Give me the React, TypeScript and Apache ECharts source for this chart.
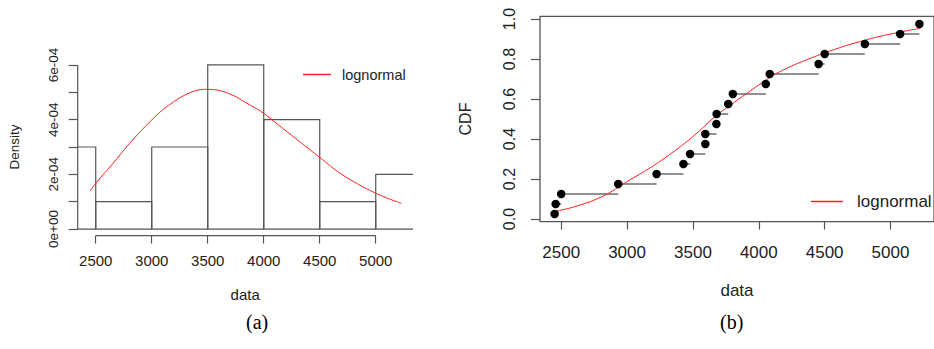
import React, { useEffect, useRef } from "react";
import * as echarts from "echarts";

// ---- histogram (panel a) ----
const histBreaks = [2000, 2500, 3000, 3500, 4000, 4500, 5000, 5500];
const histDensity = [3e-4, 1e-4, 3e-4, 6e-4, 4e-4, 1e-4, 2e-4];

// fitted lognormal density (panel a)
const densX = [2450, 2500, 2650, 2800, 3000, 3150, 3350, 3500, 3680, 3880, 4000, 4170, 4320, 4500, 4700, 5000, 5230];
const densY = [1.39e-4, 1.67e-4, 2.38e-4, 3.12e-4, 3.99e-4, 4.52e-4, 5.0e-4, 5.11e-4, 4.97e-4, 4.53e-4, 4.23e-4, 3.68e-4, 3.2e-4, 2.62e-4, 1.99e-4, 1.31e-4, 0.94e-4];

// fitted lognormal CDF (panel b)
const cdfX = [2450, 2620, 2820, 3000, 3190, 3370, 3500, 3660, 3750, 4000, 4160, 4490, 4810, 5090, 5225];
const cdfY = [0.037, 0.065, 0.115, 0.187, 0.262, 0.345, 0.412, 0.508, 0.553, 0.67, 0.737, 0.828, 0.895, 0.937, 0.953];

// empirical CDF points (panel b)
const ecdfX = [2450, 2458, 2500, 2933, 3224, 3428, 3478, 3594, 3594, 3678, 3680, 3768, 3803, 4053, 4083, 4454, 4500, 4805, 5073, 5219];
const ecdfY = [0.025, 0.075, 0.125, 0.175, 0.225, 0.275, 0.325, 0.375, 0.425, 0.475, 0.525, 0.575, 0.625, 0.675, 0.725, 0.775, 0.825, 0.875, 0.925, 0.975];

// axes
const xTicks = [2500, 3000, 3500, 4000, 4500, 5000];
const xTickLabels = ["2500", "3000", "3500", "4000", "4500", "5000"];
const densYTicks = [0, 1e-4, 2e-4, 3e-4, 4e-4, 5e-4, 6e-4];
const densYLabelValues = [0, 2e-4, 4e-4, 6e-4];
const densYLabels = ["0e+00", "2e-04", "4e-04", "6e-04"];
const cdfYTicks = [0, 0.2, 0.4, 0.6, 0.8, 1.0];
const cdfYLabels = ["0.0", "0.2", "0.4", "0.6", "0.8", "1.0"];

const X_MIN = 2339;
const X_MAX = 5330;
const DENS_Y_MIN = -0.24e-4;
const DENS_Y_MAX = 6.24e-4;
const CDF_Y_MIN = -0.013;
const CDF_Y_MAX = 1.013;

const lookup = (vals: number[], texts: string[]) => (v: number) => {
  const i = vals.findIndex((t) => Math.abs(t - v) <= Math.abs(t) * 1e-6 + 1e-12);
  return i >= 0 ? texts[i] : "";
};

const AX = "#555";
const TXT = "#222";
const RED = "#ff2020";
const FONT = "'Liberation Sans', Arial, sans-serif";

export default function App() {
  const ref = useRef<HTMLDivElement>(null);
  useEffect(() => {
    document.body.style.margin = "0";
    if (!ref.current) return;
    const chart = echarts.init(ref.current, null, { renderer: "svg" });

    const histData = histDensity.map((d, i) => [histBreaks[i], histBreaks[i + 1], d]);
    const stepData = ecdfX.slice(0, -1).map((x, i) => [x, ecdfX[i + 1], ecdfY[i]]);
    const densAxisLines = [
      [xTicks[0], DENS_Y_MIN, xTicks[xTicks.length - 1], DENS_Y_MIN],
      [X_MIN, densYTicks[0], X_MIN, densYTicks[densYTicks.length - 1]],
    ];

    const lineRender = (params: any, api: any) => {
      const a = api.coord([api.value(0), api.value(1)]);
      const b = api.coord([api.value(2), api.value(3)]);
      return {
        type: "line",
        shape: { x1: a[0], y1: a[1], x2: b[0], y2: b[1] },
        style: { stroke: AX, lineWidth: 1.2 },
      };
    };

    const option: any = {
      animation: false,
      grid: [
        { left: 77.7, top: 58.4, width: 335, height: 177.2, show: false },
        {
          left: 540, top: 16.4, width: 402.7, height: 205.2, show: true,
          borderColor: AX, borderWidth: 1.3, backgroundColor: "transparent",
        },
      ],
      xAxis: [
        {
          type: "value", gridIndex: 0, min: X_MIN, max: X_MAX,
          axisLine: { show: false, onZero: false },
          axisTick: { show: true, customValues: xTicks, length: 8, lineStyle: { color: AX, width: 1.2 } },
          axisLabel: {
            customValues: xTicks, formatter: lookup(xTicks, xTickLabels), margin: 17,
            fontSize: 15, color: TXT, fontFamily: FONT,
          },
          splitLine: { show: false },
          name: "data", nameLocation: "middle", nameGap: 51,
          nameTextStyle: { fontSize: 15, color: TXT, fontFamily: FONT },
        },
        {
          type: "value", gridIndex: 1, min: X_MIN, max: X_MAX,
          axisLine: { show: false, onZero: false },
          axisTick: { show: true, customValues: xTicks, length: 8, lineStyle: { color: AX, width: 1.2 } },
          axisLabel: {
            customValues: xTicks, formatter: lookup(xTicks, xTickLabels), margin: 22,
            fontSize: 17, color: TXT, fontFamily: FONT,
          },
          splitLine: { show: false },
          name: "data", nameLocation: "middle", nameGap: 60,
          nameTextStyle: { fontSize: 17, color: TXT, fontFamily: FONT },
        },
      ],
      yAxis: [
        {
          type: "value", gridIndex: 0, min: DENS_Y_MIN, max: DENS_Y_MAX,
          axisLine: { show: false, onZero: false },
          axisTick: { show: true, customValues: densYTicks, length: 9, lineStyle: { color: AX, width: 1.2 } },
          axisLabel: {
            customValues: densYLabelValues, formatter: lookup(densYLabelValues, densYLabels),
            rotate: 90, margin: 17, fontSize: 13.5, color: TXT, fontFamily: FONT,
          },
          splitLine: { show: false },
          name: "Density", nameLocation: "middle", nameGap: 56,
          nameTextStyle: { fontSize: 13.5, color: TXT, fontFamily: FONT },
        },
        {
          type: "value", gridIndex: 1, min: CDF_Y_MIN, max: CDF_Y_MAX,
          axisLine: { show: false, onZero: false },
          axisTick: { show: true, customValues: cdfYTicks, length: 9, lineStyle: { color: AX, width: 1.2 } },
          axisLabel: {
            customValues: cdfYTicks, formatter: lookup(cdfYTicks, cdfYLabels),
            rotate: 90, margin: 23, fontSize: 16, color: TXT, fontFamily: FONT,
          },
          splitLine: { show: false },
          name: "CDF", nameLocation: "middle", nameGap: 67,
          nameTextStyle: { fontSize: 16, color: TXT, fontFamily: FONT },
        },
      ],
      legend: [
        {
          data: [{ name: "lognormal", icon: "rect" }], left: 303, top: 67, padding: 0,
          itemWidth: 28, itemHeight: 1.5,
          selectedMode: false, itemStyle: { color: RED },
          textStyle: { fontSize: 14.5, color: TXT, fontFamily: FONT, padding: [0, 0, 0, 6] },
        },
        {
          data: [{ name: "lognormal", icon: "rect" }], left: 811, top: 193, padding: 0,
          itemWidth: 32, itemHeight: 1.5,
          selectedMode: false, itemStyle: { color: RED },
          textStyle: { fontSize: 17, color: TXT, fontFamily: FONT, padding: [0, 0, 0, 9] },
        },
      ],
      graphic: [
        { type: "text", left: 258 - 12, top: 312, style: { text: "(a)", font: "20px 'Liberation Serif', serif", fill: "#000" } },
        { type: "text", left: 732 - 12, top: 312, style: { text: "(b)", font: "20px 'Liberation Serif', serif", fill: "#000" } },
      ],
      series: [
        {
          type: "custom", name: "hist", xAxisIndex: 0, yAxisIndex: 0, clip: true,
          data: histData, encode: { x: [0, 1], y: 2 },
          renderItem: (params: any, api: any) => {
            const p1 = api.coord([api.value(0), 0]);
            const p2 = api.coord([api.value(1), api.value(2)]);
            return {
              type: "rect",
              shape: { x: p1[0], y: p2[1], width: p2[0] - p1[0], height: p1[1] - p2[1] },
              style: { fill: "none", stroke: AX, lineWidth: 1.2 },
            };
          },
        },
        {
          type: "custom", name: "axes", xAxisIndex: 0, yAxisIndex: 0, clip: false,
          data: densAxisLines, encode: { x: [0, 2], y: [1, 3] }, renderItem: lineRender,
        },
        {
          type: "line", name: "lognormal", xAxisIndex: 0, yAxisIndex: 0,
          data: densX.map((x, i) => [x, densY[i]]), symbol: "none", smooth: 0.4,
          lineStyle: { color: RED, width: 1 }, itemStyle: { color: RED },
        },
        {
          type: "custom", name: "ecdfSteps", xAxisIndex: 1, yAxisIndex: 1, clip: true,
          data: stepData, encode: { x: [0, 1], y: 2 },
          renderItem: (params: any, api: any) => {
            const a = api.coord([api.value(0), api.value(2)]);
            const b = api.coord([api.value(1), api.value(2)]);
            return {
              type: "line",
              shape: { x1: a[0], y1: a[1], x2: b[0], y2: b[1] },
              style: { stroke: "#222", lineWidth: 1 },
            };
          },
        },
        {
          type: "line", name: "lognormal", xAxisIndex: 1, yAxisIndex: 1,
          data: cdfX.map((x, i) => [x, cdfY[i]]), symbol: "none", smooth: 0.4,
          lineStyle: { color: RED, width: 1 }, itemStyle: { color: RED }, z: 3,
        },
        {
          type: "scatter", name: "ecdf", xAxisIndex: 1, yAxisIndex: 1,
          data: ecdfX.map((x, i) => [x, ecdfY[i]]), symbol: "circle", symbolSize: 8.5,
          itemStyle: { color: "#000", opacity: 1 }, z: 4,
        },
      ],
    };
    chart.setOption(option);
    return () => chart.dispose();
  }, []);
  return <div ref={ref} style={{ width: 934, height: 349, background: "#fff" }} />;
}
